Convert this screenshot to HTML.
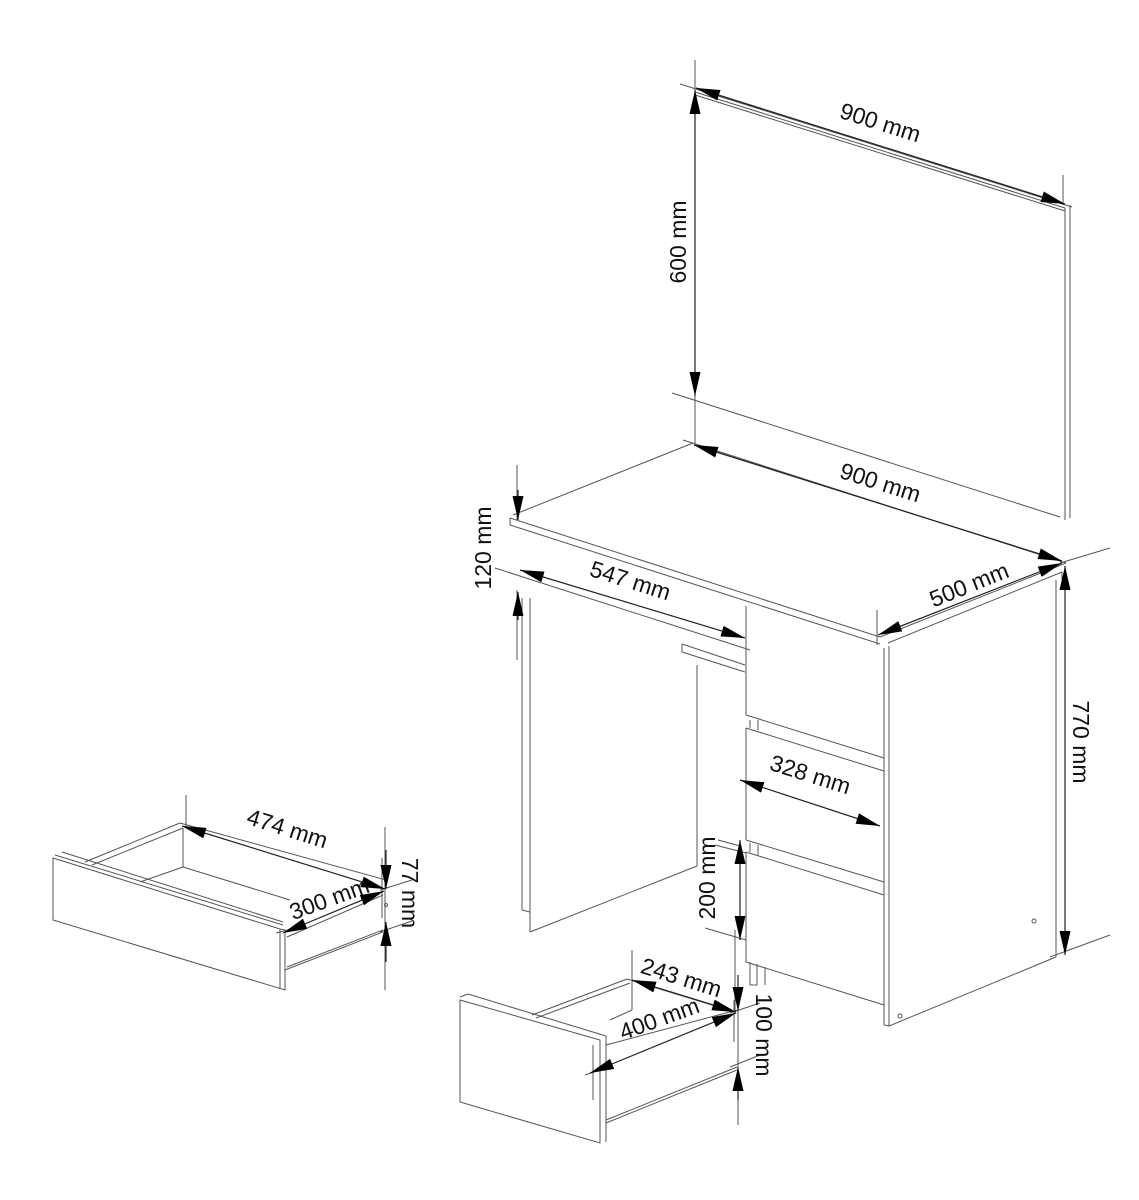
<!DOCTYPE html>
<html><head><meta charset="utf-8"><style>
html,body{margin:0;padding:0;background:#fff;}
svg{display:block;}
text{font-family:"Liberation Sans",Arial,sans-serif;font-size:23px;fill:#111;}
</style></head><body>
<svg width="1139" height="1200" viewBox="0 0 1139 1200" xmlns="http://www.w3.org/2000/svg">
<defs>
<marker id="a" viewBox="0 0 24 11" refX="24" refY="5.5" markerWidth="24" markerHeight="11" markerUnits="userSpaceOnUse" orient="auto-start-reverse">
<path d="M24,5.5 L0,0 L0,11 Z" fill="#000"/>
</marker>
</defs>
<g stroke="#555" stroke-width="1" fill="none">
<line x1="680" y1="84" x2="1072" y2="207"/>
<line x1="695" y1="92" x2="1065" y2="208"/>
<line x1="695" y1="95" x2="1065" y2="211"/>
<line x1="1065" y1="208" x2="1065" y2="520"/>
<line x1="1070" y1="205" x2="1070" y2="518"/>
<line x1="1063" y1="175" x2="1063" y2="205"/>
<line x1="672" y1="393" x2="1060" y2="517"/>
<line x1="695" y1="60" x2="695" y2="445"/>
<line x1="513" y1="515" x2="693" y2="443"/>
<line x1="683" y1="440" x2="1066" y2="563"/>
<line x1="510" y1="518" x2="880" y2="637"/>
<line x1="510" y1="518" x2="510" y2="525"/>
<line x1="510" y1="525" x2="880" y2="644"/>
<line x1="880" y1="637" x2="1066" y2="563"/>
<line x1="888" y1="643" x2="1062" y2="572"/>
<line x1="1062" y1="572" x2="1062" y2="580"/>
<line x1="1060" y1="563" x2="1110" y2="548"/>
<line x1="517" y1="465" x2="517" y2="520"/>
<line x1="517" y1="590" x2="517" y2="660"/>
<line x1="495" y1="568" x2="750" y2="650"/>
<line x1="877" y1="610" x2="877" y2="645"/>
<line x1="522" y1="598" x2="522" y2="910"/>
<line x1="530" y1="598" x2="530" y2="932"/>
<line x1="522" y1="910" x2="530" y2="912"/>
<line x1="530" y1="932" x2="697" y2="866"/>
<line x1="697" y1="665" x2="697" y2="866"/>
<line x1="682" y1="644" x2="745" y2="665"/>
<line x1="682" y1="644" x2="682" y2="652"/>
<line x1="682" y1="652" x2="745" y2="672"/>
<line x1="746" y1="606" x2="746" y2="715"/>
<line x1="746" y1="715" x2="884" y2="758"/>
<line x1="750" y1="720" x2="750" y2="728"/>
<line x1="758" y1="720" x2="758" y2="730"/>
<line x1="746" y1="728" x2="884" y2="771"/>
<line x1="746" y1="728" x2="746" y2="840"/>
<line x1="746" y1="840" x2="884" y2="882"/>
<line x1="750" y1="843" x2="750" y2="852"/>
<line x1="758" y1="845" x2="758" y2="855"/>
<line x1="746" y1="852" x2="884" y2="895"/>
<line x1="746" y1="852" x2="746" y2="962"/>
<line x1="746" y1="962" x2="884" y2="1005"/>
<line x1="750" y1="962" x2="750" y2="985"/>
<line x1="757" y1="964" x2="757" y2="985"/>
<line x1="765" y1="967" x2="765" y2="985"/>
<line x1="750" y1="985" x2="757" y2="985"/>
<line x1="884" y1="648" x2="884" y2="1025"/>
<line x1="889" y1="646" x2="889" y2="1026"/>
<line x1="884" y1="1025" x2="889" y2="1026"/>
<line x1="889" y1="1026" x2="1056" y2="957"/>
<line x1="1056" y1="580" x2="1056" y2="957"/>
<line x1="1050" y1="957" x2="1110" y2="935"/>
<circle cx="1034" cy="921" r="2"/>
<circle cx="900" cy="1016" r="2"/>
<line x1="735" y1="930" x2="735" y2="1010"/>
<line x1="705" y1="928" x2="746" y2="940"/>
<line x1="715" y1="845" x2="746" y2="853"/>
<line x1="718" y1="840" x2="740" y2="846"/>
<path d="M53,858 L280,929 L285,930 L285,990 L53,920 Z"/>
<line x1="55" y1="855" x2="283" y2="925"/>
<line x1="62" y1="852" x2="283" y2="922"/>
<line x1="280" y1="929" x2="280" y2="988"/>
<line x1="85" y1="862" x2="180" y2="823"/>
<line x1="92" y1="865" x2="183" y2="828"/>
<line x1="180" y1="823" x2="386" y2="880"/>
<line x1="183" y1="828" x2="183" y2="867"/>
<line x1="183" y1="867" x2="140" y2="882"/>
<line x1="183" y1="867" x2="290" y2="900"/>
<line x1="285" y1="970" x2="383" y2="932"/>
<line x1="287" y1="967" x2="383" y2="930"/>
<line x1="287" y1="937" x2="383" y2="895"/>
<line x1="186" y1="795" x2="186" y2="828"/>
<line x1="276" y1="933" x2="300" y2="927"/>
<line x1="385" y1="827" x2="385" y2="990"/>
<line x1="382" y1="858" x2="382" y2="918"/>
<line x1="380" y1="890" x2="412" y2="880"/>
<line x1="380" y1="932" x2="412" y2="921"/>
<circle cx="386" cy="905" r="1.5"/>
<path d="M460,1000 L600,1040 L600,1143 L460,1102 Z"/>
<line x1="460" y1="997" x2="468" y2="994"/>
<line x1="468" y1="994" x2="606" y2="1036"/>
<line x1="606" y1="1036" x2="606" y2="1142"/>
<line x1="593" y1="1045" x2="593" y2="1100"/>
<line x1="532" y1="1015" x2="627" y2="979"/>
<line x1="536" y1="1018" x2="630" y2="983"/>
<line x1="627" y1="979" x2="735" y2="1012"/>
<line x1="632" y1="950" x2="632" y2="1010"/>
<line x1="632" y1="1010" x2="610" y2="1020"/>
<line x1="606" y1="1045" x2="737" y2="1010"/>
<line x1="606" y1="1120" x2="737" y2="1067"/>
<line x1="606" y1="1123" x2="737" y2="1070"/>
<line x1="738" y1="985" x2="738" y2="1125"/>
<line x1="734" y1="1000" x2="734" y2="1042"/>
<line x1="730" y1="1013" x2="760" y2="1003"/>
<line x1="730" y1="1067" x2="760" y2="1055"/>
<line x1="585" y1="1075" x2="600" y2="1070"/>
</g>
<g stroke="#222" stroke-width="1.2" fill="none">
<line x1="696" y1="88" x2="1065" y2="204" marker-start="url(#a)" marker-end="url(#a)"/>
<line x1="695" y1="90" x2="695" y2="396" marker-start="url(#a)" marker-end="url(#a)"/>
<line x1="694" y1="445" x2="1062" y2="561" marker-start="url(#a)" marker-end="url(#a)"/>
<line x1="518" y1="490" x2="518" y2="520" marker-end="url(#a)"/>
<line x1="518" y1="620" x2="518" y2="592" marker-end="url(#a)"/>
<line x1="520" y1="570" x2="745" y2="638" marker-start="url(#a)" marker-end="url(#a)"/>
<line x1="878" y1="635" x2="1062" y2="563" marker-start="url(#a)" marker-end="url(#a)"/>
<line x1="1065" y1="566" x2="1065" y2="955" marker-start="url(#a)" marker-end="url(#a)"/>
<line x1="740" y1="780" x2="880" y2="826" marker-start="url(#a)" marker-end="url(#a)"/>
<line x1="740" y1="840" x2="740" y2="940" marker-start="url(#a)" marker-end="url(#a)"/>
<line x1="182" y1="826" x2="385" y2="889" marker-start="url(#a)" marker-end="url(#a)"/>
<line x1="283" y1="933" x2="384" y2="891" marker-start="url(#a)" marker-end="url(#a)"/>
<line x1="386" y1="850" x2="386" y2="889" marker-end="url(#a)"/>
<line x1="386" y1="962" x2="386" y2="922" marker-end="url(#a)"/>
<line x1="632" y1="980" x2="736" y2="1012" marker-start="url(#a)" marker-end="url(#a)"/>
<line x1="590" y1="1073" x2="736" y2="1013" marker-start="url(#a)" marker-end="url(#a)"/>
<line x1="738" y1="975" x2="738" y2="1011" marker-end="url(#a)"/>
<line x1="738" y1="1100" x2="738" y2="1067" marker-end="url(#a)"/>
</g>
<text transform="translate(878,130) rotate(17.5)" text-anchor="middle">900 mm</text>
<text transform="translate(686,242) rotate(-90)" text-anchor="middle">600 mm</text>
<text transform="translate(878,490) rotate(17.5)" text-anchor="middle">900 mm</text>
<text transform="translate(491,548) rotate(-90)" text-anchor="middle">120 mm</text>
<text transform="translate(628,588) rotate(17.5)" text-anchor="middle">547 mm</text>
<text transform="translate(972,592) rotate(-22)" text-anchor="middle">500 mm</text>
<text transform="translate(1073,742) rotate(90)" text-anchor="middle">770 mm</text>
<text transform="translate(808,782) rotate(17.5)" text-anchor="middle">328 mm</text>
<text transform="translate(715,878) rotate(-90)" text-anchor="middle">200 mm</text>
<text transform="translate(285,836) rotate(17.5)" text-anchor="middle">474 mm</text>
<text transform="translate(332,906) rotate(-20)" text-anchor="middle">300 mm</text>
<text transform="translate(402,893) rotate(90)" text-anchor="middle">77 mm</text>
<text transform="translate(679,985) rotate(17.5)" text-anchor="middle">243 mm</text>
<text transform="translate(662,1026) rotate(-20)" text-anchor="middle">400 mm</text>
<text transform="translate(756,1035) rotate(90)" text-anchor="middle">100 mm</text>
</svg>
</body></html>
